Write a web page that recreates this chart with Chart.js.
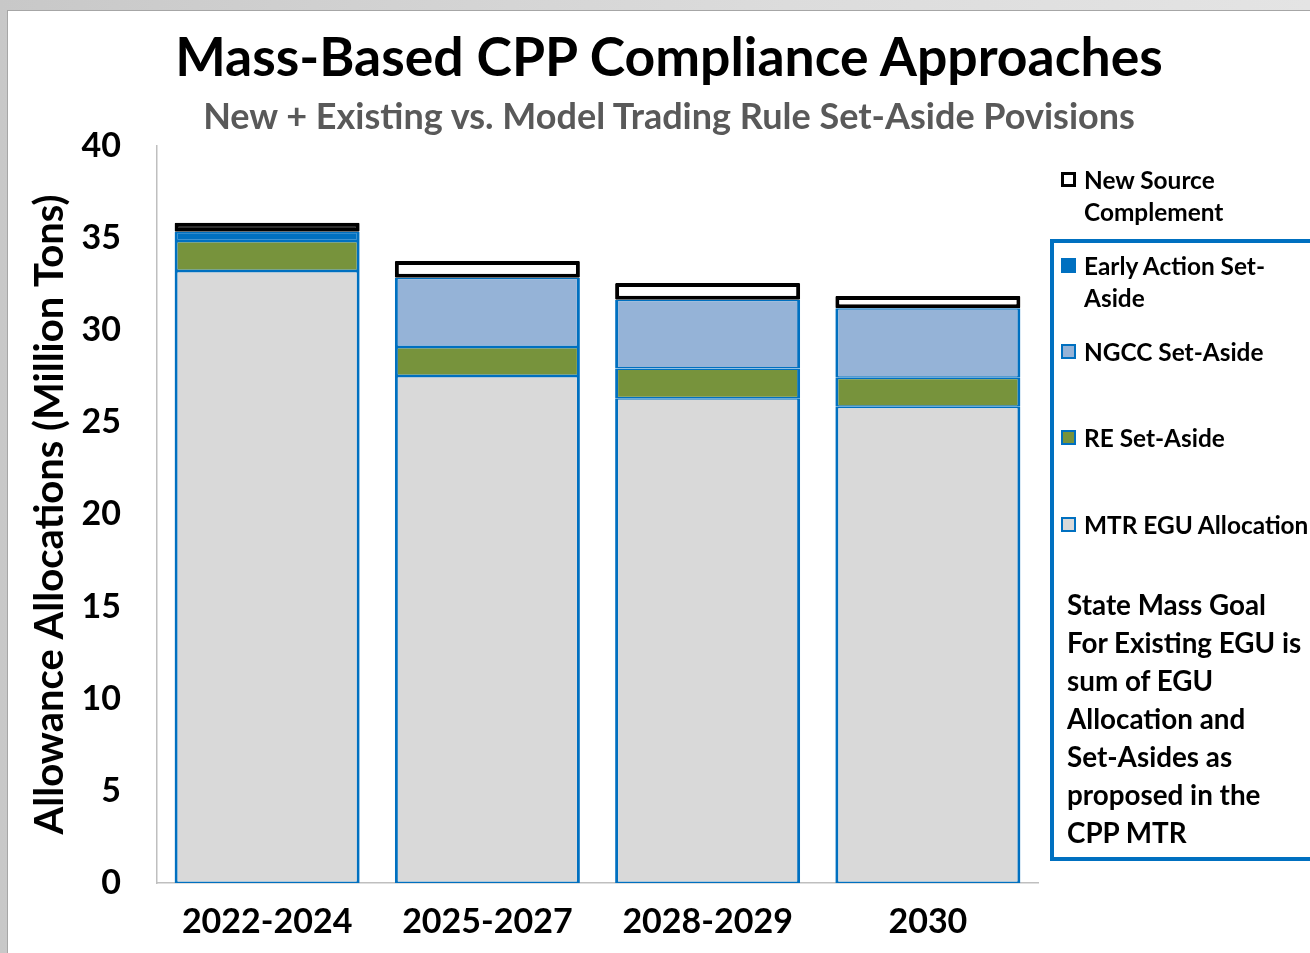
<!DOCTYPE html>
<html>
<head>
<meta charset="utf-8">
<script src="https://cdn.jsdelivr.net/npm/chart.js@4.4.1/dist/chart.umd.min.js"></script>
<style>
  html, body { margin: 0; padding: 0; }
  body { width: 1310px; height: 953px; overflow: hidden; background: linear-gradient(90deg, #c8c8c8, #dcdcdc 60%, #e4e4e4); position: relative; font-family: Lato, "Open Sans", sans-serif; }
  #panel { position: absolute; left: 7px; top: 10px; right: 0; bottom: 0; background: #fff; border-left: 1px solid #a6a6a6; border-top: 1px solid #a6a6a6; }
  #wrap { position: absolute; left: 0; top: 0; width: 1310px; height: 953px; }
  .t { position: absolute; white-space: nowrap; font-weight: 700; color: #000; }
  #title { left: 0; width: 1338px; text-align: center; top: 22px; font-size: 53.5px; line-height: 66px; }
  #subtitle { left: 0; width: 1338px; text-align: center; top: 94px; font-size: 36px; line-height: 42px; color: #595959; }
  .leg { position: absolute; left: 1061px; font-size: 24.4px; font-weight: 700; line-height: 32px; }
  .leg .sw { position: absolute; left: 0; top: 8px; width: 11px; height: 11px; border: 2px solid #0070C0; }
  .leg .tx { position: absolute; left: 23px; top: 0; white-space: nowrap; }
  #box { position: absolute; left: 1050px; top: 239px; width: 300px; height: 614px; border: 4px solid #0070C0; box-sizing: content-box; }
  #note { position: absolute; left: 1067px; top: 586px; font-size: 27.8px; font-weight: 700; line-height: 38px; white-space: nowrap; }
</style>
</head>
<body>
<div id="panel"></div>
<div id="wrap"><canvas id="c" width="1310" height="953"></canvas></div>
<div id="title" class="t">Mass-Based CPP Compliance Approaches</div>
<div id="subtitle" class="t">New + Existing vs. Model Trading Rule Set-Aside Povisions</div>
<div id="box"></div>
<div id="legend"></div>
<div id="note">State Mass Goal<br>For Existing EGU is<br>sum of EGU<br>Allocation and<br>Set-Asides as<br>proposed in the<br>CPP MTR</div>
<script>
const categories = ['2022-2024', '2025-2027', '2028-2029', '2030'];
const mtrEgu     = [33.22, 27.52, 26.31, 25.85];
const reSetAside = [1.63, 1.57, 1.61, 1.57];
const ngccSetAside = [null, 3.76, 3.73, 3.77];
const earlyAction = [0.50, null, null, null];
const newSource  = [0.49, 0.91, 0.91, 0.67];
const yTicks = [0, 5, 10, 15, 20, 25, 30, 35, 40];

const BLUE = '#0070C0';
const segBorder = { left: 3, right: 3, top: 1.5, bottom: 1.5 };

const datasets = [
  { label: 'MTR EGU Allocation', data: mtrEgu, backgroundColor: '#D9D9D9', borderColor: BLUE, borderWidth: segBorder },
  { label: 'RE Set-Aside', data: reSetAside, backgroundColor: '#77933C', borderColor: BLUE, borderWidth: segBorder },
  { label: 'NGCC Set-Aside', data: ngccSetAside, backgroundColor: '#95B3D7', borderColor: BLUE, borderWidth: segBorder },
  { label: 'Early Action Set-Aside', data: earlyAction, backgroundColor: BLUE, borderColor: BLUE, borderWidth: segBorder },
  { label: 'New Source Complement', data: newSource, backgroundColor: ['#000000', '#FFFFFF', '#FFFFFF', '#FFFFFF'], borderColor: '#000000', borderWidth: 4, borderRadius: 1 }
];
datasets.forEach(d => { d.borderSkipped = false; d.barPercentage = 0.84; d.categoryPercentage = 1.0; });

Chart.defaults.font.family = 'Lato, "Open Sans", sans-serif';

new Chart(document.getElementById('c'), {
  type: 'bar',
  data: { labels: categories, datasets },
  options: {
    responsive: false,
    animation: false,
    layout: { padding: { left: 26, right: 272, top: 146, bottom: 0 } },
    plugins: { legend: { display: false }, tooltip: { enabled: false }, title: { display: false } },
    scales: {
      x: {
        stacked: true,
        grid: { display: false, drawTicks: false },
        border: { color: '#BFBFBF', width: 1.5 },
        ticks: { color: '#000', font: { size: 34, weight: 'bold' }, padding: 19 },
        afterFit: s => { s.height = 70; }
      },
      y: {
        stacked: true, min: 0, max: 40,
        afterBuildTicks: s => { s.ticks = yTicks.map(v => ({ value: v })); },
        grid: { display: false, drawTicks: false },
        border: { color: '#BFBFBF', width: 1.5 },
        ticks: { color: '#000', font: { size: 34, weight: 'bold' }, padding: 36 },
        title: { display: true, text: 'Allowance Allocations (Million Tons)', color: '#000', font: { size: 40, weight: 'bold' }, padding: { top: 0, bottom: 4 } },
        afterFit: s => { s.width = 131; }
      }
    }
  }
});

// HTML legend (order as in reference)
const legendItems = [
  { label: ['New Source', 'Complement'], fill: '#FFFFFF', border: '#000000', bw: 3, top: 164 },
  { label: ['Early Action Set-', 'Aside'], fill: BLUE, border: BLUE, bw: 2, top: 250 },
  { label: ['NGCC Set-Aside'], fill: '#95B3D7', border: BLUE, bw: 2, top: 336 },
  { label: ['RE Set-Aside'], fill: '#77933C', border: BLUE, bw: 2, top: 422 },
  { label: ['MTR EGU Allocation'], fill: '#D9D9D9', border: BLUE, bw: 2, top: 509 }
];
const lg = document.getElementById('legend');
legendItems.forEach(it => {
  const d = document.createElement('div');
  d.className = 'leg';
  d.style.top = it.top + 'px';
  const sw = document.createElement('div');
  sw.className = 'sw';
  sw.style.background = it.fill;
  sw.style.borderColor = it.border;
  sw.style.borderWidth = it.bw + 'px';
  const s = 15 - 2 * it.bw;
  sw.style.width = s + 'px'; sw.style.height = s + 'px';
  const tx = document.createElement('div');
  tx.className = 'tx';
  tx.innerHTML = it.label.join('<br>');
  d.appendChild(sw); d.appendChild(tx);
  lg.appendChild(d);
});
</script>
</body>
</html>
